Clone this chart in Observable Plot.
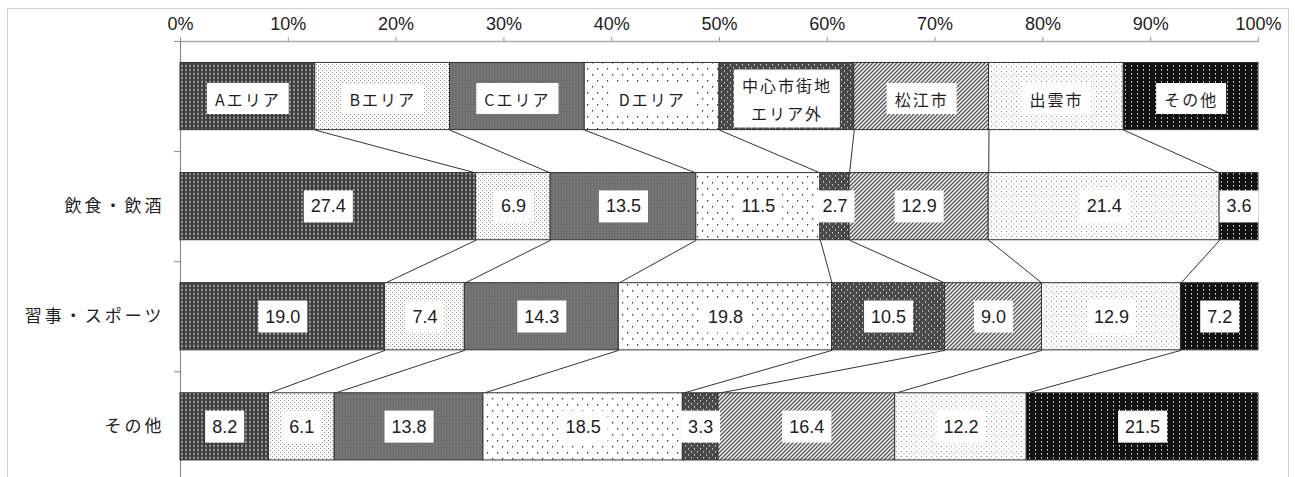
<!DOCTYPE html>
<html><head><meta charset="utf-8">
<script src="https://cdn.jsdelivr.net/npm/d3@7"></script>
<script src="https://cdn.jsdelivr.net/npm/@observablehq/plot@0.6"></script>
<style>
body{margin:0;background:#fff;}
#wrap{position:relative;width:1295px;height:477px;overflow:hidden;}
#frame{position:absolute;left:7px;top:8px;width:1282px;height:480px;border:1px solid #d0d0d0;box-sizing:border-box;}
#wrap svg{position:absolute;left:0;top:0;}
g[fill="#1f1f1f"] text{letter-spacing:2px;}
g[aria-label="y-axis tick label"] text{letter-spacing:3px;}
</style>
</head><body>
<div id="wrap"><div id="frame"></div></div>
<script>
const categories = ["Aエリア","Bエリア","Cエリア","Dエリア","中心市街地\nエリア外","松江市","出雲市","その他"];
const rowNames = ["飲食・飲酒","習事・スポーツ","その他"];
const food   = [27.4, 6.9, 13.5, 11.5, 2.7, 12.9, 21.4, 3.6];
const sports = [19.0, 7.4, 14.3, 19.8, 10.5, 9.0, 12.9, 7.2];
const other  = [8.2, 6.1, 13.8, 18.5, 3.3, 16.4, 12.2, 21.5];
const xTicks = [0,10,20,30,40,50,60,70,80,90,100];
const patternIds = ["pA","pB","pC","pD","pE","pF","pG","pH"];

// legend row: equal shares for each category
const legendShares = categories.map(() => 1);
const rowsValues = [legendShares, food, sports, other];

const H = 0.305; // half bar thickness (row units)
const segs = [];
const bounds = [];
rowsValues.forEach((vals, r) => {
  const sum = d3.sum(vals);
  let c = 0;
  const cum = [0];
  vals.forEach((v, i) => {
    const x1 = c / sum * 100; c += v; const x2 = c / sum * 100;
    cum.push(x2);
    segs.push({row: r, cat: categories[i], v, x1, x2, label: r === 0 ? categories[i] : v.toFixed(1)});
  });
  bounds.push(cum);
});
const links = [];
for (let r = 0; r < bounds.length - 1; r++) {
  for (let k = 1; k < categories.length; k++) {
    links.push({x1: bounds[r][k], x2: bounds[r+1][k], y1: r + H, y2: r + 1 - H});
  }
}

const chart = Plot.plot({
  width: 1295, height: 477,
  marginLeft: 180, marginRight: 37, marginTop: 41, marginBottom: 0,
  style: {fontFamily: "'Noto Sans CJK JP', sans-serif", fontSize: "16px", background: "transparent", color: "#222"},
  x: {domain: [0, 100]},
  y: {domain: [-0.5, 3.46], range: [41, 477]},
  color: {domain: categories, range: patternIds.map(id => `url(#${id})`)},
  marks: [
    Plot.axisX({anchor: "top", ticks: xTicks, tickFormat: d => d + "%", tickSize: 5, tickPadding: 7, stroke: "#999", fontSize: 18, fontFamily: "'Liberation Sans', sans-serif"}),
    Plot.axisY({ticks: [-0.5, 0.5, 1.5, 2.5], tickSize: 6, tickFormat: () => "", stroke: "#888"}),
    Plot.axisY({ticks: [1, 2, 3], tickSize: 0, tickPadding: 16, tickFormat: i => rowNames[i - 1], fontSize: 17}),
    Plot.ruleY([-0.5], {x1: 0, x2: 100, stroke: "#aaa", strokeWidth: 1.5}),
    Plot.ruleX([0], {y1: -0.5, y2: 3.46, stroke: "#888", strokeWidth: 1.2}),
    Plot.link(links, {x1: "x1", x2: "x2", y1: "y1", y2: "y2", stroke: "#333", strokeWidth: 1}),
    Plot.rect(segs, {x1: "x1", x2: "x2", y1: d => d.row - H, y2: d => d.row + H, fill: "cat", stroke: "#333", strokeWidth: 1}),
    Plot.text(segs.filter(d => d.row === 0), {x: d => (d.x1 + d.x2) / 2, y: "row", text: "label", fontSize: 16, lineHeight: 1.75, fill: "#1f1f1f"}),
    Plot.text(segs.filter(d => d.row > 0), {x: d => (d.x1 + d.x2) / 2, y: "row", text: "label", fontSize: 18, fill: "#202020", fontFamily: "'Liberation Sans', sans-serif"})
  ]
});

document.getElementById("wrap").append(chart);

const defs = `<defs>
<pattern id="pA" width="4" height="4" patternUnits="userSpaceOnUse"><rect width="4" height="4" fill="#3c3c3c"/><ellipse cx="2" cy="2" rx="1" ry="1.4" fill="#9a9a9a"/></pattern>
<pattern id="pB" width="4" height="4" patternUnits="userSpaceOnUse"><rect width="4" height="4" fill="#fff"/><rect x="0" y="0" width="1" height="1" fill="#888"/><rect x="2" y="2" width="1" height="1" fill="#888"/></pattern>
<pattern id="pC" width="3" height="3" patternUnits="userSpaceOnUse"><rect width="3" height="3" fill="#707070"/><rect x="1" y="1" width="1" height="1" fill="#848484"/></pattern>
<pattern id="pD" width="10" height="12" patternUnits="userSpaceOnUse"><rect width="10" height="12" fill="#fff"/><rect x="2" y="2" width="1.2" height="1.5" fill="#333"/><rect x="7" y="8" width="1.2" height="1.5" fill="#333"/></pattern>
<pattern id="pE" width="6" height="6" patternUnits="userSpaceOnUse"><rect width="6" height="6" fill="#4a4a4a"/><rect x="1" y="1" width="1" height="1.6" fill="#c8c8c8"/><rect x="4" y="4" width="1" height="1.6" fill="#c8c8c8"/></pattern>
<pattern id="pF" width="4" height="4" patternUnits="userSpaceOnUse"><rect width="4" height="4" fill="#f4f4f4"/><path d="M-1,1 L1,-1 M0,4 L4,0 M3,5 L5,3" stroke="#555" stroke-width="1.3"/></pattern>
<pattern id="pG" width="5" height="5" patternUnits="userSpaceOnUse"><rect width="5" height="5" fill="#fff"/><rect x="1" y="1" width="1" height="1" fill="#888"/><rect x="3.5" y="3.5" width="1" height="1" fill="#aaa"/></pattern>
<pattern id="pH" width="6" height="4" patternUnits="userSpaceOnUse"><rect width="6" height="4" fill="#111"/><rect x="3" y="1" width="1" height="1.6" fill="#ddd"/></pattern>
</defs>`;
chart.insertAdjacentHTML("afterbegin", defs);

function boxes(fillKey, padX, padY, minH) {
  chart.querySelectorAll(`g[fill="${fillKey}"] > text`).forEach(t => {
    const b = t.getBBox();
    const h = Math.max(b.height + 2 * padY, minH);
    const r = document.createElementNS("http://www.w3.org/2000/svg", "rect");
    r.setAttribute("x", b.x - padX);
    r.setAttribute("y", b.y + b.height / 2 - h / 2);
    r.setAttribute("width", b.width + 2 * padX);
    r.setAttribute("height", h);
    r.setAttribute("fill", "#fff");
    r.setAttribute("stroke", "none");
    const tr = t.getAttribute("transform");
    if (tr) r.setAttribute("transform", tr);
    t.parentNode.insertBefore(r, t);
  });
}
boxes("#1f1f1f", 8, 3, 31);
boxes("#202020", 7, 5, 32);
</script>
</body></html>
